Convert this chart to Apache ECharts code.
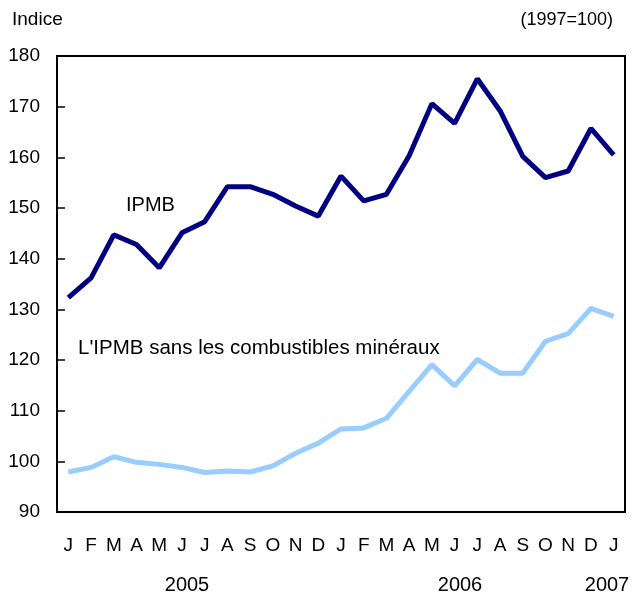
<!DOCTYPE html>
<html>
<head>
<meta charset="utf-8">
<script src="https://cdn.jsdelivr.net/npm/echarts@6/dist/echarts.min.js"></script>
<style>
  html, body { margin: 0; padding: 0; background: #fff; }
  #chart { width: 641px; height: 594px; }
</style>
</head>
<body>
<div id="chart"></div>
<script>
var months = ['J','F','M','A','M','J','J','A','S','O','N','D',
              'J','F','M','A','M','J','J','A','S','O','N','D','J'];
var ipmb = [132.3, 136.2, 144.7, 142.8, 138.2, 145.1, 147.3, 154.2, 154.2, 152.7, 150.4, 148.4,
            156.3, 151.4, 152.7, 160.3, 170.6, 166.7, 175.5, 169.2, 160.2, 156.0, 157.3, 165.7, 160.5];
var ipmbSansComb = [97.9, 98.8, 100.9, 99.8, 99.4, 98.8, 97.8, 98.1, 97.9, 99.1, 101.6, 103.6,
                    106.4, 106.6, 108.5, 113.8, 119.1, 114.9, 120.1, 117.4, 117.4, 123.7, 125.2, 130.2, 128.6];
var years = ['2005', '2006', '2007'];
var yearPos = [187, 460, 607];

var font = 'Liberation Sans, Arial, Helvetica, sans-serif';
var mychart = echarts.init(document.getElementById('chart'));

var graphics = [
  { type: 'text', x: 12, y: 20, style: { text: 'Indice', font: '19px ' + font, fill: '#000', verticalAlign: 'middle' } },
  { type: 'text', x: 613, y: 20, style: { text: '(1997=100)', font: '18px ' + font, fill: '#000', align: 'right', verticalAlign: 'middle' } },
  { type: 'text', x: 126, y: 205, style: { text: 'IPMB', font: '20px ' + font, fill: '#000', verticalAlign: 'middle' } },
  { type: 'text', x: 78, y: 348, style: { text: "L'IPMB sans les combustibles minéraux", font: '20.5px ' + font, fill: '#000', verticalAlign: 'middle' } }
];
years.forEach(function (y, i) {
  graphics.push({ type: 'text', x: yearPos[i], y: 585,
    style: { text: y, font: '20px ' + font, fill: '#000', align: 'center', verticalAlign: 'middle' } });
});

var option = {
  animation: false,
  grid: { left: 57, right: 16, top: 56, bottom: 82, show: true, borderColor: '#000', borderWidth: 2, containLabel: false },
  graphic: graphics,
  xAxis: {
    type: 'category',
    data: months,
    boundaryGap: true,
    axisLine: { lineStyle: { color: '#000', width: 2 } },
    axisTick: { inside: true, length: 6, lineStyle: { color: '#000', width: 1.5 } },
    axisLabel: { color: '#000', fontSize: 19, fontFamily: font, margin: 24, interval: 0 },
    splitLine: { show: false }
  },
  yAxis: {
    type: 'value',
    min: 90, max: 180, interval: 10,
    axisLine: { show: true, lineStyle: { color: '#000', width: 2 } },
    axisTick: { show: true, inside: true, length: 8, lineStyle: { color: '#000', width: 1.5 } },
    axisLabel: { color: '#000', fontSize: 19, fontFamily: font, margin: 17 },
    splitLine: { show: false }
  },
  series: [
    { name: 'IPMB', type: 'line', data: ipmb, symbol: 'none',
      lineStyle: { color: '#000080', width: 5 } },
    { name: "L'IPMB sans les combustibles minéraux", type: 'line', data: ipmbSansComb, symbol: 'none',
      lineStyle: { color: '#99CCFF', width: 5 } }
  ]
};
mychart.setOption(option);
</script>
</body>
</html>
